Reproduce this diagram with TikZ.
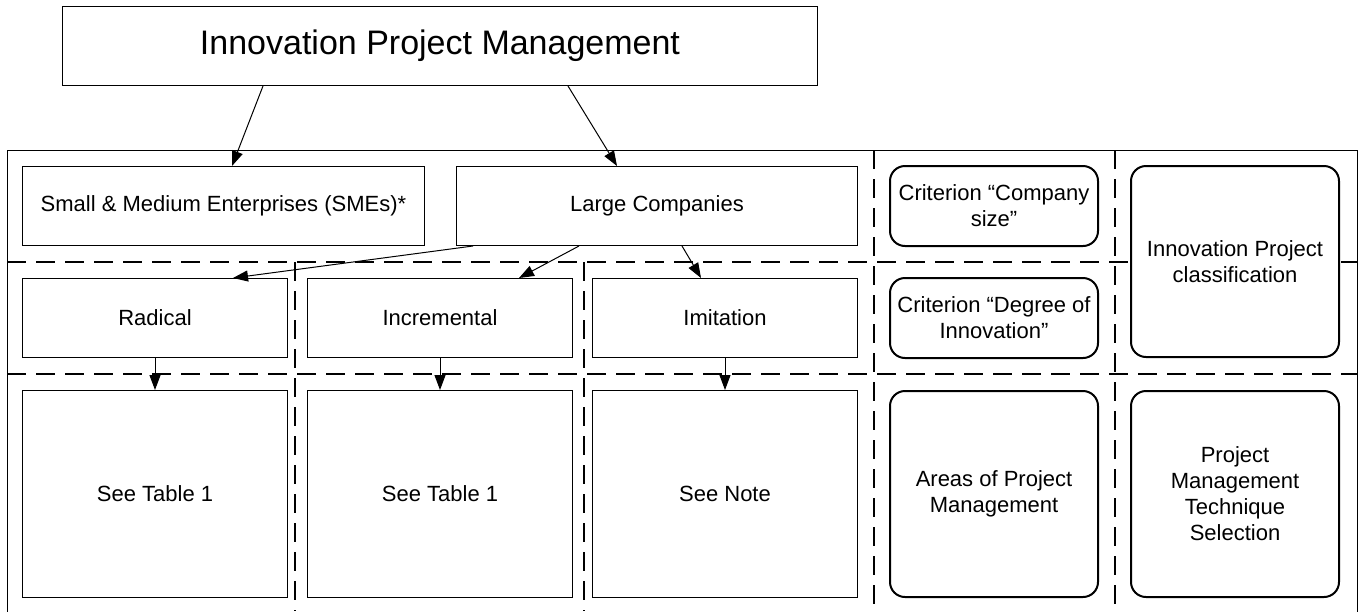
\documentclass[tikz,border=0pt]{standalone}
\usepackage{fontspec}
\setmainfont{Liberation Sans}
\usetikzlibrary{arrows.meta, positioning}

\begin{document}
\begin{tikzpicture}[
    x=1pt, y=-1pt,
    line width=1pt,
    box/.style={draw, fill=white, minimum width=265pt, minimum height=79pt, inner sep=2pt, align=center, font=\fontsize{22}{26}\selectfont},
    roundbox/.style={box, rounded corners=15pt, line width=2pt, minimum width=208pt, minimum height=80pt},
    grid/.style={dash pattern=on 19pt off 10pt, line width=1.3pt},
    >={Triangle[length=15pt, width=11pt]}
]

\useasboundingbox (0,0) rectangle (1362,611);

% frame and dashed grid
\draw (7,614) -- (7,150) -- (1357,150) -- (1357,614);
\draw[grid] (7,262) -- (1357,262);
\draw[grid] (7,374) -- (1357,374);
\draw[grid] (295,262) -- (295,611);
\draw[grid] (584,262) -- (584,611);
\draw[grid] (874,150) -- (874,611);
\draw[grid] (1115,150) -- (1115,611);

\node[box, minimum width=755pt, font=\fontsize{34}{40}\selectfont] (ipm) at (440,46) {Innovation Project Management};

\node[box, minimum width=402pt] (sme) at (223.5,206) {Small \& Medium Enterprises (SMEs)*};
\node[box, minimum width=401pt] (large) [right=31pt of sme] {Large Companies};

\node[box] (radical) at (155,318) {Radical};
\node[box] (incr) [right=19pt of radical] {Incremental};
\node[box] (imit) [right=19pt of incr] {Imitation};

\node[box, minimum height=207pt] (tab1) [below=32pt of radical] {See Table 1};
\node[box, minimum height=207pt] (tab2) [below=32pt of incr] {See Table 1};
\node[box, minimum height=207pt] (note) [below=32pt of imit] {See Note};

\node[roundbox] (size) at (994,206) {Criterion “Company\\size”};
\node[roundbox] (degree) [below=30pt of size] {Criterion “Degree of\\Innovation”};
\node[roundbox, minimum height=191pt] (ipc) at (1235,261.5) {Innovation Project\\classification};
\node[roundbox, minimum height=206pt] (areas) at (994,494) {Areas of Project\\Management};
\node[roundbox, minimum height=206pt] (pmts) [right=31pt of areas] {Project\\Management\\Technique\\Selection};

\path[->]
    ([xshift=-177pt]ipm.south) edge ([xshift=8.5pt]sme.north)
    ([xshift=128pt]ipm.south) edge ([xshift=-40pt]large.north)
    ([xshift=-184pt]large.south) edge ([xshift=78pt]radical.north)
    ([xshift=-78pt]large.south) edge ([xshift=79pt]incr.north)
    ([xshift=25pt]large.south) edge ([xshift=-24pt]imit.north)
    (radical) edge (tab1)
    (incr) edge (tab2)
    (imit) edge (note)
    ;

\end{tikzpicture}
\end{document}
